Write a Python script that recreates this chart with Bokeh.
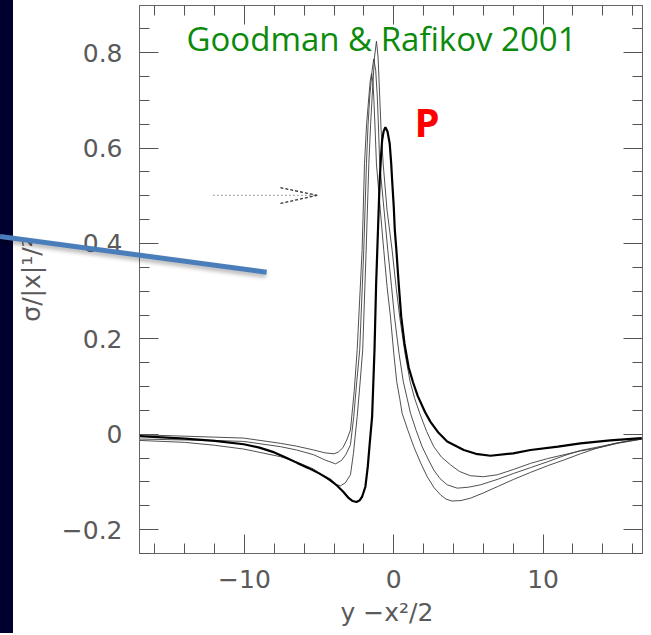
from bokeh.plotting import figure
from bokeh.models import Range1d, LinearAxis, FixedTicker, Label, Arrow, Div
from bokeh.layouts import row
from bokeh.embed import file_html
from bokeh.resources import INLINE

# ---- data ----
thick_x = [-17.0, -14.0, -12.0, -10.05, -9.0, -8.0, -7.2, -6.47, -5.7, -5.0,
           -4.24, -3.79, -3.4, -3.01, -2.75, -2.5, -2.3, -2.12, -1.90, -1.74,
           -1.61, -1.45, -1.29, -1.18, -1.11, -1.0, -0.94, -0.85, -0.78, -0.68,
           -0.56, -0.42, -0.27, -0.17, -0.11, 0.0, 0.07, 0.16, 0.33, 0.50,
           0.72, 1.0, 1.3, 1.61, 2.1, 2.46, 3.0, 3.58, 4.69, 5.5,
           6.48, 8.0, 9.16, 11.0, 12.5, 14.5, 16.6]
thick_y = [-0.004, -0.009, -0.014, -0.021, -0.028, -0.038, -0.049, -0.060, -0.071, -0.082,
           -0.096, -0.108, -0.120, -0.134, -0.140, -0.142, -0.139, -0.131, -0.110, -0.068,
           -0.019, 0.037, 0.177, 0.316, 0.38, 0.48, 0.533, 0.585, 0.616, 0.635,
           0.644, 0.635, 0.609, 0.567, 0.533, 0.477, 0.428, 0.393, 0.316, 0.246,
           0.190, 0.140, 0.108, 0.080, 0.046, 0.026, 0.003, -0.015, -0.033, -0.041,
           -0.045, -0.040, -0.033, -0.026, -0.019, -0.013, -0.008]

thin1_x = [-17.0, -14.0, -12.0, -10.05, -7.59, -6.5, -5.36, -4.7, -4.24, -3.9,
           -3.57, -3.25, -2.9, -2.7, -2.45, -2.25, -2.08, -1.85, -1.67, -1.55,
           -1.45, -1.29, -1.16, -1.05, -0.94, -0.85, -0.71, -0.45, -0.11, 0.15,
           0.40, 0.75, 1.1, 1.4, 1.74, 2.2, 2.68, 3.2, 3.80, 4.4,
           5.14, 6.0, 6.93, 8.0, 9.16, 10.3, 11.39, 12.5, 13.62, 15.0,
           16.64]
thin1_y = [-0.013, -0.017, -0.023, -0.031, -0.047, -0.058, -0.073, -0.088, -0.099, -0.105,
           -0.108, -0.102, -0.085, -0.040, 0.037, 0.11, 0.177, 0.386, 0.567, 0.65,
           0.707, 0.791, 0.824, 0.791, 0.707, 0.64, 0.567, 0.47, 0.386, 0.31,
           0.246, 0.17, 0.11, 0.075, 0.044, 0.006, -0.026, -0.048, -0.064, -0.078,
           -0.087, -0.089, -0.085, -0.074, -0.061, -0.051, -0.043, -0.035, -0.029, -0.018,
           -0.008]

thin2_x = [-17.0, -14.0, -12.0, -10.05, -7.59, -6.5, -5.36, -4.6, -3.9, -3.5,
           -3.2, -2.9, -2.68, -2.48, -2.28, -2.01, -1.83, -1.72, -1.61, -1.45,
           -1.34, -1.21, -1.10, -1.02, -0.94, -0.65, -0.40, -0.15, 0.05, 0.35,
           0.64, 0.9, 1.12, 1.5, 1.90, 2.3, 2.68, 3.1, 3.58, 4.25,
           5.0, 5.81, 7.0, 8.04, 9.16, 10.27, 11.4, 12.51, 13.62, 15.0,
           16.64]
thin2_y = [-0.010, -0.012, -0.013, -0.015, -0.026, -0.033, -0.043, -0.054, -0.062, -0.055,
           -0.042, -0.022, 0.037, 0.11, 0.177, 0.386, 0.567, 0.65, 0.707, 0.763,
           0.787, 0.763, 0.707, 0.64, 0.567, 0.47, 0.386, 0.31, 0.246, 0.17,
           0.11, 0.075, 0.044, 0.008, -0.026, -0.052, -0.075, -0.093, -0.106, -0.113,
           -0.111, -0.106, -0.094, -0.082, -0.070, -0.058, -0.045, -0.034, -0.027, -0.018,
           -0.010]

thin3_x = [-17.0, -14.0, -12.0, -10.05, -7.59, -6.5, -5.36, -4.6, -4.0, -3.7,
           -3.4, -3.15, -2.9, -2.65, -2.45, -2.12, -1.96, -1.82, -1.67, -1.58,
           -1.49, -1.40, -1.34, -1.25, -1.16, -0.9, -0.67, -0.45, -0.22, 0.0,
           0.2, 0.4, 0.56, 0.95, 1.34, 1.8, 2.24, 2.7, 3.13, 3.5,
           3.91, 4.5, 5.14, 6.0, 6.93, 8.0, 9.16, 10.3, 11.39, 12.5,
           13.62, 15.0, 16.64]
thin3_y = [-0.001, -0.004, -0.006, -0.008, -0.019, -0.025, -0.033, -0.039, -0.041, -0.037,
           -0.028, -0.012, 0.009, 0.09, 0.177, 0.386, 0.567, 0.65, 0.707, 0.74,
           0.756, 0.74, 0.707, 0.64, 0.567, 0.47, 0.386, 0.31, 0.246, 0.17,
           0.11, 0.075, 0.044, 0.008, -0.026, -0.060, -0.089, -0.112, -0.127, -0.136,
           -0.140, -0.139, -0.134, -0.123, -0.110, -0.095, -0.080, -0.066, -0.054, -0.041,
           -0.029, -0.019, -0.010]

x_ticks = [-10, 0, 10]
x_tick_labels = ["\u221210", "0", "10"]
y_ticks = [-0.2, 0, 0.2, 0.4, 0.6, 0.8]
y_tick_labels = ["\u22120.2", "0", "0.2", "0.4", "0.6", "0.8"]

title_text = "Goodman & Rafikov 2001"
marker_text = "P"
x_label = "y  \u2212x\u00b2/2"
y_label = "\u03c3/|x|\u00b9/\u00b2"

# ---- figure ----
X0, X1 = -17.03, 16.66
Y0, Y1 = -0.25, 0.899

p = figure(width=630, height=633, x_range=Range1d(X0, X1), y_range=Range1d(Y0, Y1),
           output_backend="svg", toolbar_location=None,
           min_border_left=126, min_border_right=1, min_border_top=5, min_border_bottom=80)
p.background_fill_alpha = 0
p.border_fill_alpha = 0
p.outline_line_color = "#666666"
p.xgrid.visible = False
p.ygrid.visible = False

x_minor = [v for v in range(-16, 17, 2)]
y_minor = [round(-0.25 + 0.05 * i, 2) for i in range(0, 24)]

FONT = "DejaVu Sans"
TXT = "#5a5a5a"


def style_axis(ax, ticks, minor, labels=None, show=True):
    ax.ticker = FixedTicker(ticks=ticks, minor_ticks=minor)
    ax.axis_line_color = "#666666"
    ax.major_tick_line_color = "#555555"
    ax.minor_tick_line_color = "#555555"
    ax.major_tick_in = 19
    ax.major_tick_out = 0
    ax.minor_tick_in = 10
    ax.minor_tick_out = 0
    if show:
        ax.major_label_overrides = dict(zip(ticks, labels))
        ax.major_label_text_font = FONT
        ax.major_label_text_font_size = "25px"
        ax.major_label_text_color = TXT
        ax.axis_label_text_font = FONT
        ax.axis_label_text_font_size = "25px"
        ax.axis_label_text_font_style = "normal"
        ax.axis_label_text_color = TXT
    else:
        ax.major_label_text_font_size = "0px"
        ax.major_label_text_alpha = 0
        ax.major_label_text_color = None
        ax.major_label_standoff = 0


style_axis(p.xaxis[0], x_ticks, x_minor, x_tick_labels)
p.xaxis[0].axis_label = x_label
p.xaxis[0].major_label_standoff = 16
p.xaxis[0].axis_label_standoff = 7
style_axis(p.yaxis[0], y_ticks, y_minor, y_tick_labels)
p.yaxis[0].axis_label = y_label
p.yaxis[0].major_label_standoff = 17
p.yaxis[0].axis_label_standoff = 13

top_ax = LinearAxis()
style_axis(top_ax, x_ticks, x_minor, show=False)
p.add_layout(top_ax, "above")
right_ax = LinearAxis()
style_axis(right_ax, y_ticks, y_minor, show=False)
p.add_layout(right_ax, "right")

# curves
for xs, ys in [(thin1_x, thin1_y), (thin2_x, thin2_y), (thin3_x, thin3_y)]:
    p.line(xs, ys, line_color="#3c3c3c", line_width=0.9)
p.line(thick_x, thick_y, line_color="black", line_width=2.2)

# dotted arrow
p.add_layout(Arrow(end=None, x_start=-12.08, y_start=0.501, x_end=-5.13, y_end=0.501,
                   line_color="#666666", line_width=1.3, line_dash="1 3"))
p.add_layout(Arrow(end=None, x_start=-7.59, y_start=0.517, x_end=-5.13, y_end=0.501,
                   line_color="#333333", line_width=1.3, line_dash="3 2"))
p.add_layout(Arrow(end=None, x_start=-7.59, y_start=0.484, x_end=-5.13, y_end=0.501,
                   line_color="#333333", line_width=1.3, line_dash="3 2"))

# texts
p.add_layout(Label(x=-13.88, y=0.829, text=title_text, text_font="Open Sans",
                   text_font_size="33px", text_color="#0b8a0b", text_baseline="alphabetic"))
p.add_layout(Label(x=1.39, y=0.656, text=marker_text, text_font="Open Sans",
                   text_font_size="40px", text_font_style="bold", text_color="#ff0000",
                   text_baseline="alphabetic"))

# slide pointer line (blue, with soft shadow), laid over the page as a rotated block
pointer = ('<div style="position:absolute;left:0px;top:233.5px;width:269px;height:5px;'
           'background:#4a7ebb;transform:rotate(7.62deg);transform-origin:0 50%;'
           'box-shadow:0 3px 4px rgba(0,0,0,0.30);z-index:100;pointer-events:none;"></div>')
strip = Div(width=13, height=633, margin=0, text=pointer,
            styles={"background-color": "#00002e", "overflow": "visible", "z-index": "100"})
layout = row(strip, p, spacing=0)

open("out.html", "w").write(file_html(layout, INLINE))
